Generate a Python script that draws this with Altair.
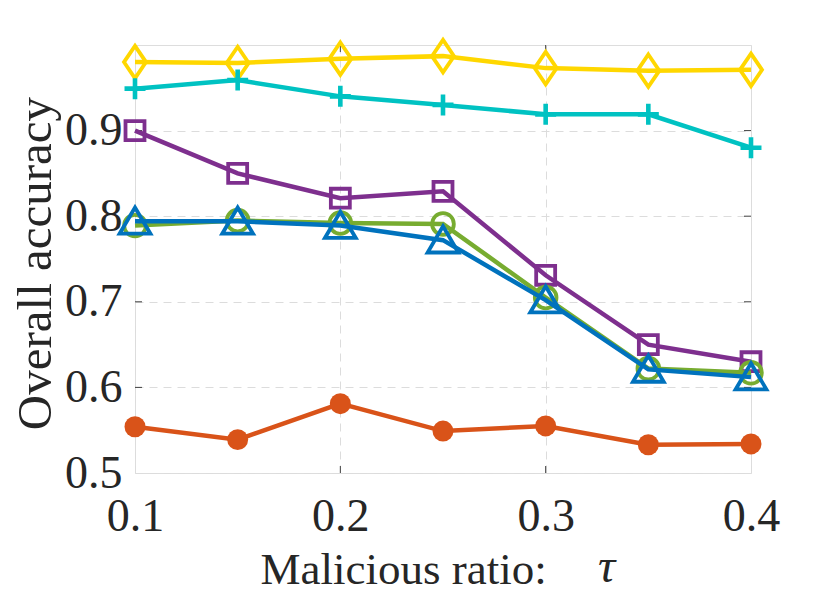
import altair as alt
import pandas as pd

# x values (malicious ratio)
tau = [0.1, 0.15, 0.2, 0.25, 0.3, 0.35, 0.4]

# series values
yellow_vals = [0.980, 0.979, 0.984, 0.987, 0.973, 0.970, 0.971]
cyan_vals = [0.949, 0.959, 0.940, 0.930, 0.919, 0.919, 0.880]
purple_vals = [0.900, 0.850, 0.821, 0.829, 0.731, 0.650, 0.630]
green_vals = [0.789, 0.795, 0.792, 0.791, 0.705, 0.622, 0.617]
blue_vals = [0.794, 0.794, 0.789, 0.772, 0.702, 0.621, 0.612]
orange_vals = [0.554, 0.539, 0.581, 0.549, 0.555, 0.533, 0.534]

x_ticks = [0.1, 0.2, 0.3, 0.4]
y_ticks = [0.5, 0.6, 0.7, 0.8, 0.9]
x_title = "Malicious ratio:"
x_symbol = "τ"
y_title = "Overall accuracy"

W, H = 616, 428
FONT = "Liberation Serif"
TXT = "#262626"

x_scale = alt.Scale(domain=[0.1, 0.4], nice=False, zero=False)
y_scale = alt.Scale(domain=[0.5, 1.0], nice=False, zero=False)

x_axis = alt.Axis(values=x_ticks, format=".1f", title=x_title,
                  grid=True, gridDash=[8, 6], gridColor="#dcdcdc", gridWidth=1,
                  ticks=False, domain=False, labelFont=FONT, labelFontSize=46,
                  labelColor=TXT, labelPadding=21, titleFont=FONT, titleFontSize=45,
                  titleFontWeight="normal", titleColor=TXT,
                  titleAlign="left", titleBaseline="alphabetic",
                  titleX=125, titleY=110, labelFlush=False)
y_axis = alt.Axis(values=y_ticks, format=".1f", title=y_title,
                  grid=True, gridDash=[8, 6], gridColor="#dcdcdc", gridWidth=1,
                  ticks=False, domain=False, labelFont=FONT, labelFontSize=46,
                  labelColor=TXT, labelPadding=13, titleFont=FONT, titleFontSize=49,
                  titleFontWeight="normal", titleColor=TXT,
                  titleAlign="center", titleBaseline="alphabetic",
                  titleX=-85, titleY=218, labelFlush=False)

# marker shapes (unit paths)
diamond = "M0,-1L0.68,0L0,1L-0.68,0Z"
plus = "M-1,0H1M0,-1V1"
triangle = "M0,-0.9L1,0.8L-1,0.8Z"

series = [
    # name, values, color, shape, size, filled, stroke
    ("orange", orange_vals, "#D95319", "circle", 440, True, 3),
    ("yellow", yellow_vals, "#FFD700", diamond, 1050, False, 3.8),
    ("cyan", cyan_vals, "#00C2C2", plus, 440, False, 4.6),
    ("purple", purple_vals, "#7E2F8E", "square", 360, False, 3.8),
    ("green", green_vals, "#77AC30", "circle", 470, False, 3.8),
    ("blue", blue_vals, "#0072BD", triangle, 950, False, 3.8),
]

layers = []
# inner ticks on all four sides
yt = pd.DataFrame({"v": y_ticks[1:]})
xt = pd.DataFrame({"v": x_ticks[1:-1]})
layers.append(alt.Chart(yt).mark_rule(color="#404040", strokeWidth=1).encode(
    y=alt.Y("v:Q", scale=y_scale, axis=y_axis), x=alt.value(0), x2=alt.value(7)))
layers.append(alt.Chart(yt).mark_rule(color="#404040", strokeWidth=1).encode(
    y=alt.Y("v:Q", scale=y_scale), x=alt.value(W - 7), x2=alt.value(W)))
layers.append(alt.Chart(xt).mark_rule(color="#404040", strokeWidth=1).encode(
    x=alt.X("v:Q", scale=x_scale, axis=x_axis), y=alt.value(H - 7), y2=alt.value(H)))
layers.append(alt.Chart(xt).mark_rule(color="#404040", strokeWidth=1).encode(
    x=alt.X("v:Q", scale=x_scale), y=alt.value(0), y2=alt.value(7)))

for name, vals, color, shape, size, filled, sw in series:
    df = pd.DataFrame({"tau": tau, "acc": vals})
    base = alt.Chart(df).encode(
        x=alt.X("tau:Q", scale=x_scale),
        y=alt.Y("acc:Q", scale=y_scale),
    )
    layers.append(base.mark_line(color=color, strokeWidth=4.5))
    layers.append(base.mark_point(shape=shape, size=size, filled=filled,
                                  color=color, opacity=1, strokeWidth=sw))

# italic tau after the x-axis title
sym = pd.DataFrame({"t": [x_symbol]})
layers.append(alt.Chart(sym).mark_text(
    font=FONT, fontSize=48, fontStyle="italic", color=TXT,
    align="left", baseline="alphabetic").encode(
    text="t:N", x=alt.value(463), y=alt.value(537)))

chart = alt.layer(*layers).properties(
    width=W, height=H,
    autosize=alt.AutoSizeParams(type="none"),
    padding={"left": 127, "top": 37, "right": 71, "bottom": 121},
).configure_view(stroke="#404040", strokeWidth=1.2).configure(background="white")

chart.save("out.html", embed_options={"renderer": "svg", "actions": False})
